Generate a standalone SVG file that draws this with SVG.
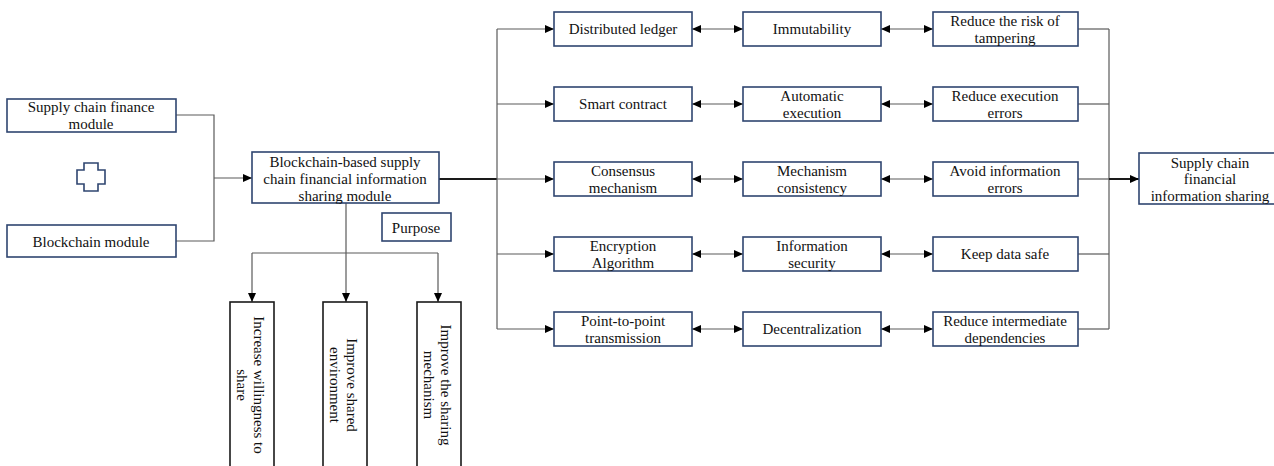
<svg xmlns="http://www.w3.org/2000/svg" width="1274" height="466" viewBox="0 0 1274 466">
<style>
.box{fill:#fff;stroke:#2f4570;stroke-width:1.6}
.bbox{fill:#fff;stroke:#1a1a1a;stroke-width:1.6}
.t{font-family:"Liberation Serif","Times New Roman",serif;font-size:15px;fill:#111;text-anchor:middle}
.ln{fill:none;stroke:#5a5a5a;stroke-width:1.2}
.thick{fill:none;stroke:#1a1a1a;stroke-width:2}
</style>
<defs>
<marker id="ah" viewBox="0 0 9 8" refX="9" refY="4" markerWidth="9" markerHeight="8" markerUnits="userSpaceOnUse" orient="auto-start-reverse">
<path d="M0,0 L9,4 L0,8 z" fill="#000"/>
</marker>
</defs>
<rect width="1274" height="466" fill="#fff"/>
<g id="connectors">
<polyline class="ln" points="176,115 214,115 214,241 176,241"/>
<line class="ln" x1="214" y1="178" x2="252" y2="178" marker-end="url(#ah)"/>
<line class="thick" x1="439" y1="179" x2="497" y2="179"/>
<line class="ln" x1="497" y1="29" x2="497" y2="329"/>
<line class="ln" x1="497" y1="29" x2="554" y2="29" marker-end="url(#ah)"/>
<line class="ln" x1="497" y1="104" x2="554" y2="104" marker-end="url(#ah)"/>
<line class="ln" x1="497" y1="179" x2="554" y2="179" marker-end="url(#ah)"/>
<line class="ln" x1="497" y1="254" x2="554" y2="254" marker-end="url(#ah)"/>
<line class="ln" x1="497" y1="329" x2="554" y2="329" marker-end="url(#ah)"/>
<line class="ln" x1="692" y1="29" x2="743" y2="29" marker-start="url(#ah)" marker-end="url(#ah)"/>
<line class="ln" x1="692" y1="104" x2="743" y2="104" marker-start="url(#ah)" marker-end="url(#ah)"/>
<line class="ln" x1="692" y1="179" x2="743" y2="179" marker-start="url(#ah)" marker-end="url(#ah)"/>
<line class="ln" x1="692" y1="254" x2="743" y2="254" marker-start="url(#ah)" marker-end="url(#ah)"/>
<line class="ln" x1="692" y1="329" x2="743" y2="329" marker-start="url(#ah)" marker-end="url(#ah)"/>
<line class="ln" x1="881" y1="29" x2="933" y2="29" marker-start="url(#ah)" marker-end="url(#ah)"/>
<line class="ln" x1="881" y1="104" x2="933" y2="104" marker-start="url(#ah)" marker-end="url(#ah)"/>
<line class="ln" x1="881" y1="179" x2="933" y2="179" marker-start="url(#ah)" marker-end="url(#ah)"/>
<line class="ln" x1="881" y1="254" x2="933" y2="254" marker-start="url(#ah)" marker-end="url(#ah)"/>
<line class="ln" x1="881" y1="329" x2="933" y2="329" marker-start="url(#ah)" marker-end="url(#ah)"/>
<line class="ln" x1="1078" y1="29" x2="1109" y2="29"/>
<line class="ln" x1="1078" y1="104" x2="1109" y2="104"/>
<line class="ln" x1="1078" y1="179" x2="1109" y2="179"/>
<line class="ln" x1="1078" y1="254" x2="1109" y2="254"/>
<line class="ln" x1="1078" y1="329" x2="1109" y2="329"/>
<line class="ln" x1="1109" y1="29" x2="1109" y2="329"/>
<line class="thick" x1="1109" y1="179" x2="1139" y2="179" marker-end="url(#ah)"/>
<line class="ln" x1="346" y1="203" x2="346" y2="302" marker-end="url(#ah)"/>
<line class="ln" x1="252" y1="253" x2="438" y2="253"/>
<line class="ln" x1="252" y1="253" x2="252" y2="302" marker-end="url(#ah)"/>
<line class="ln" x1="438" y1="253" x2="438" y2="302" marker-end="url(#ah)"/>
</g>
<g id="n-scf">
<rect class="box" x="7" y="99" width="169" height="33"/>
<text class="t" x="91" y="112">Supply chain finance</text>
<text class="t" x="91" y="129">module</text>
</g>
<g id="n-plus">
<path d="M84,163 H98 V170 H105 V184 H98 V191 H84 V184 H77 V170 H84 Z" fill="#fff" stroke="#2f4570" stroke-width="1.6"/>
</g>
<g id="n-bc">
<rect class="box" x="7" y="225" width="169" height="32"/>
<text class="t" x="91" y="247">Blockchain module</text>
</g>
<g id="n-center">
<rect class="box" x="252" y="152" width="187" height="51"/>
<text class="t" x="345" y="167">Blockchain-based supply</text>
<text class="t" x="345" y="184">chain financial information</text>
<text class="t" x="345" y="201">sharing module</text>
</g>
<g id="n-purpose">
<rect class="box" x="382" y="213" width="69" height="28"/>
<text class="t" x="416" y="233">Purpose</text>
</g>
<g id="n-p1">
<rect class="bbox" x="230" y="302" width="44" height="168"/>
<g transform="translate(252,385) rotate(90)">
<text class="t" x="0" y="-2">Increase willingness to</text>
<text class="t" x="0" y="15">share</text>
</g>
</g>
<g id="n-p2">
<rect class="bbox" x="323" y="302" width="44" height="168"/>
<g transform="translate(345,385) rotate(90)">
<text class="t" x="0" y="-2">Improve shared</text>
<text class="t" x="0" y="15">environment</text>
</g>
</g>
<g id="n-p3">
<rect class="bbox" x="417" y="302" width="44" height="168"/>
<g transform="translate(439,385) rotate(90)">
<text class="t" x="0" y="-2">Improve the sharing</text>
<text class="t" x="0" y="15">mechanism</text>
</g>
</g>
<g id="n-c1r1"><rect class="box" x="554" y="12" width="138" height="34"/><text class="t" x="623" y="34">Distributed ledger</text></g>
<g id="n-c1r2"><rect class="box" x="554" y="87" width="138" height="34"/><text class="t" x="623" y="109">Smart contract</text></g>
<g id="n-c1r3"><rect class="box" x="554" y="162" width="138" height="34"/><text class="t" x="623" y="176">Consensus</text><text class="t" x="623" y="193">mechanism</text></g>
<g id="n-c1r4"><rect class="box" x="554" y="237" width="138" height="34"/><text class="t" x="623" y="251">Encryption</text><text class="t" x="623" y="268">Algorithm</text></g>
<g id="n-c1r5"><rect class="box" x="554" y="312" width="138" height="34"/><text class="t" x="623" y="326">Point-to-point</text><text class="t" x="623" y="343">transmission</text></g>
<g id="n-c2r1"><rect class="box" x="743" y="12" width="138" height="34"/><text class="t" x="812" y="34">Immutability</text></g>
<g id="n-c2r2"><rect class="box" x="743" y="87" width="138" height="34"/><text class="t" x="812" y="101">Automatic</text><text class="t" x="812" y="118">execution</text></g>
<g id="n-c2r3"><rect class="box" x="743" y="162" width="138" height="34"/><text class="t" x="812" y="176">Mechanism</text><text class="t" x="812" y="193">consistency</text></g>
<g id="n-c2r4"><rect class="box" x="743" y="237" width="138" height="34"/><text class="t" x="812" y="251">Information</text><text class="t" x="812" y="268">security</text></g>
<g id="n-c2r5"><rect class="box" x="743" y="312" width="138" height="34"/><text class="t" x="812" y="334">Decentralization</text></g>
<g id="n-c3r1"><rect class="box" x="933" y="12" width="145" height="34"/><text class="t" x="1005" y="26">Reduce the risk of</text><text class="t" x="1005" y="43">tampering</text></g>
<g id="n-c3r2"><rect class="box" x="933" y="87" width="145" height="34"/><text class="t" x="1005" y="101">Reduce execution</text><text class="t" x="1005" y="118">errors</text></g>
<g id="n-c3r3"><rect class="box" x="933" y="162" width="145" height="34"/><text class="t" x="1005" y="176">Avoid information</text><text class="t" x="1005" y="193">errors</text></g>
<g id="n-c3r4"><rect class="box" x="933" y="237" width="145" height="34"/><text class="t" x="1005" y="259">Keep data safe</text></g>
<g id="n-c3r5"><rect class="box" x="933" y="312" width="145" height="34"/><text class="t" x="1005" y="326">Reduce intermediate</text><text class="t" x="1005" y="343">dependencies</text></g>
<g id="n-final">
<rect class="box" x="1139" y="153" width="140" height="51"/>
<text class="t" x="1210" y="168">Supply chain</text>
<text class="t" x="1210" y="184">financial</text>
<text class="t" x="1210" y="201">information sharing</text>
</g>
</svg>
